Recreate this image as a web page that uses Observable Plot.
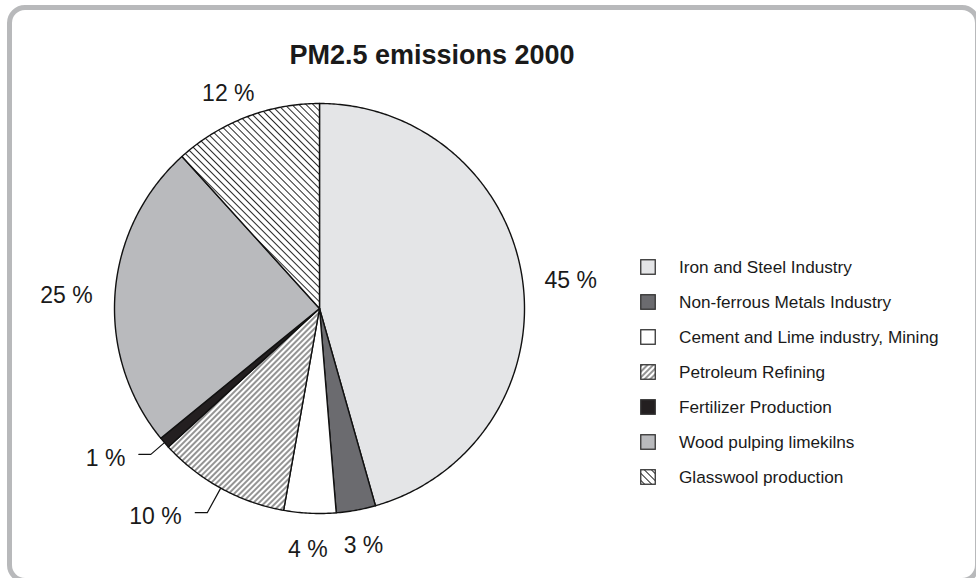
<!DOCTYPE html>
<html><head><meta charset="utf-8">
<script src="https://cdn.jsdelivr.net/npm/d3@7"></script>
<script src="https://cdn.jsdelivr.net/npm/@observablehq/plot@0.6"></script>
<style>
body{margin:0;background:#fff;}
#wrap{position:relative;width:976px;height:578px;overflow:hidden;font-family:"Liberation Sans",Arial,sans-serif;color:#1a1a1a;}
#frame{position:absolute;left:7px;top:5px;width:973px;height:578px;border:5px solid #b8b9bb;border-radius:18px;box-sizing:border-box;}
#title{position:absolute;left:0;width:864px;top:40px;text-align:center;font-weight:bold;font-size:27px;}
#chart{position:absolute;left:0;top:0;}
#legend{position:absolute;left:640px;top:250px;}
.row{position:absolute;left:0;height:35px;width:320px;white-space:nowrap;}
.row svg{position:absolute;left:0;top:9px;}
.row span{position:absolute;left:39px;top:7px;font-size:17.2px;}
</style></head>
<body>
<div id="wrap">
  <div id="frame"></div>
  <div id="chart"></div>
  <div id="title">PM2.5 emissions 2000</div>
  <div id="legend"></div>
</div>
<script>
// ---- data ----
const categories = ["Iron and Steel Industry","Non-ferrous Metals Industry","Cement and Lime industry, Mining","Petroleum Refining","Fertilizer Production","Wood pulping limekilns","Glasswool production"];
const shares = [45.6, 3.1, 4.1, 10.4, 0.9, 24.2, 11.7];
const labels = ["45 %","3 %","4 %","10 %","1 %","25 %","12 %"];
// ---- style ----
const fills = ["#e4e5e7","#6b6b6f","#ffffff","url(#hatchFwd)","#231f20","#b9babd","url(#hatchBack)"];
const leaderLength = {"Petroleum Refining": 28, "Fertilizer Production": 18};

const W = 976, H = 578, cx = 319, cy = 308, R = 205;
const arcs = d3.pie().sort(null).value(d => d)(shares);

const marks = [];
arcs.forEach((a, i) => {
  const pts = [{x:0, y:0}];
  const n = Math.max(6, Math.ceil((a.endAngle - a.startAngle) / 0.01));
  for (let k = 0; k <= n; k++) {
    const t = a.startAngle + (a.endAngle - a.startAngle) * k / n;
    pts.push({x: R * Math.sin(t), y: R * Math.cos(t)});
  }
  pts.push({x:0, y:0});
  marks.push(Plot.line(pts, {x:"x", y:"y", fill: fills[i], stroke:"#111", strokeWidth:1.4, strokeLinejoin:"round", curve:"linear"}));
});

const gap = 22, fs = 23;
const outer = [], lead = [], leadTxt = [];
arcs.forEach((a, i) => {
  const m = (a.startAngle + a.endAngle) / 2;
  const dx = Math.sin(m), dy = Math.cos(m);
  const L = leaderLength[categories[i]];
  if (L) {
    const e = {x: R*dx, y: R*dy};
    const b = {x: (R+L)*dx, y: (R+L)*dy};
    const s = dx < 0 ? -1 : 1;
    const h = {x: b.x + s*12, y: b.y};
    lead.push({x:e.x, y:e.y, k:i}, {x:b.x, y:b.y, k:i}, {x:h.x, y:h.y, k:i});
    leadTxt.push({x: h.x + s*13.5, y: h.y - 4, t: labels[i]});
  } else {
    const hw = labels[i].length * fs * 0.29, hh = 9;
    outer.push({x: (R+gap)*dx + hw*dx, y: (R+gap)*dy + hh*dy - 5, t: labels[i]});
  }
});
marks.push(Plot.line(lead, {x:"x", y:"y", z:"k", stroke:"#111", strokeWidth:1.2}));
marks.push(Plot.text(outer, {x:"x", y:"y", text:"t", fontSize:fs, fill:"#1a1a1a", textAnchor:"middle"}));
marks.push(Plot.text(leadTxt, {x:"x", y:"y", text:"t", fontSize:fs, fill:"#1a1a1a", textAnchor:"end"}));

const svg = Plot.plot({
  width: W, height: H,
  margin: 0,
  style: {background:"transparent", fontFamily:"Liberation Sans, Arial, sans-serif", overflow:"visible"},
  x: {type:"linear", domain:[-cx, W - cx], range:[0, W], axis:null},
  y: {type:"linear", domain:[-(H - cy), cy], range:[H, 0], axis:null},
  marks
});
const defs = document.createElementNS("http://www.w3.org/2000/svg", "defs");
defs.innerHTML = `
<pattern id="hatchFwd" patternUnits="userSpaceOnUse" width="4" height="4" patternTransform="rotate(45)">
  <rect width="4" height="4" fill="#fff"/><line x1="2" y1="0" x2="2" y2="4" stroke="#111" stroke-width="0.9"/>
</pattern>
<pattern id="hatchBack" patternUnits="userSpaceOnUse" width="5" height="5" patternTransform="rotate(-45)">
  <rect width="5" height="5" fill="#fff"/><line x1="2.5" y1="0" x2="2.5" y2="5" stroke="#111" stroke-width="0.9"/>
</pattern>`;
svg.insertBefore(defs, svg.firstChild);
document.getElementById("chart").appendChild(svg);

const leg = document.getElementById("legend");
categories.forEach((c, i) => {
  const row = document.createElement("div");
  row.className = "row";
  row.style.top = (i * 35) + "px";
  row.innerHTML = `<svg width="16" height="16"><rect x="0.75" y="0.75" width="14.5" height="14.5" fill="${fills[i]}" stroke="#333" stroke-width="1.3"/></svg><span>${c}</span>`;
  leg.appendChild(row);
});
</script>
</body></html>
